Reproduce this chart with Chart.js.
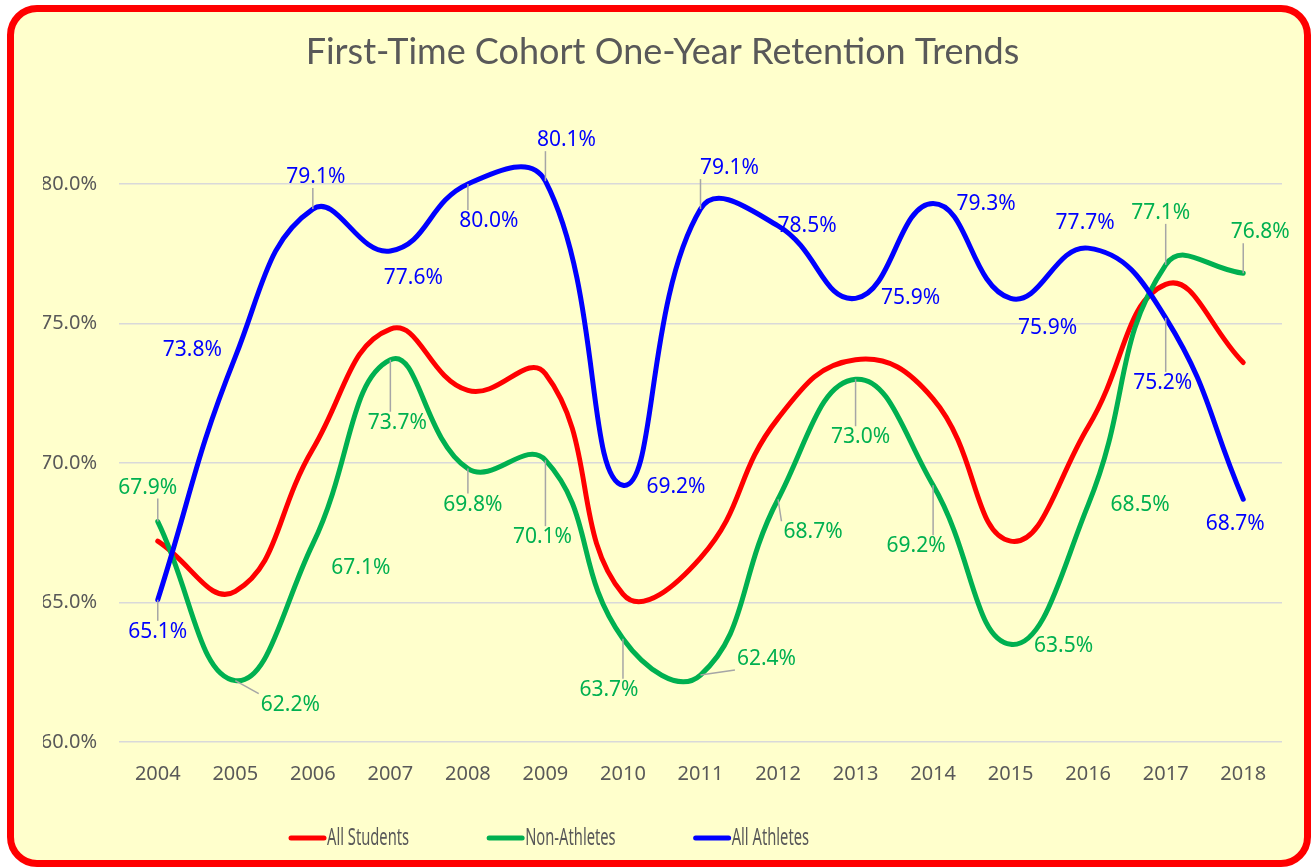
<!DOCTYPE html>
<html>
<head>
<meta charset="utf-8">
<script src="https://cdn.jsdelivr.net/npm/chart.js@4.4.0/dist/chart.umd.min.js"></script>
<style>
  html, body { margin: 0; padding: 0; background: #ffffff; overflow: hidden; }
  #frame {
    position: absolute; left: 7px; top: 5px; width: 1304px; height: 862px;
    box-sizing: border-box; border: 7px solid #ff0000; border-radius: 30px;
    background: #ffffcc;
  }
  #chart { position: absolute; left: 0; top: 0; }
</style>
</head>
<body>
<div id="frame"></div>
<canvas id="chart" width="1311" height="867"></canvas>
<script>
'use strict'

// data
const years = ['2004', '2005', '2006', '2007', '2008', '2009', '2010', '2011', '2012', '2013', '2014', '2015', '2016', '2017', '2018']
const allStudents = [67.2, 65.4, 70.5, 74.8, 72.6, 73.2, 65.3, 66.6, 71.6, 73.7, 72.3, 67.2, 71.3, 76.4, 73.6]
const nonAthletes = [67.9, 62.2, 67.1, 73.7, 69.8, 70.1, 63.7, 62.4, 68.7, 73.0, 69.2, 63.5, 68.5, 77.1, 76.8]
const allAthletes = [65.1, 73.8, 79.1, 77.6, 80.0, 80.1, 69.2, 79.1, 78.5, 75.9, 79.3, 75.9, 77.7, 75.2, 68.7]
const yTicks = [60, 65, 70, 75, 80]

const TEXT_GREY = '#595959'

// where each data label sits relative to its point: [dx, dy, leader line?]
const labelPlacement = {
    1: [[-10, -34, 1], [55, 24, 1], [48, 24, 0], [7, 63, 1], [5, 36, 1], [-3, 77, 1], [-14, 51, 1], [66, -16, 1],
        [35, 33, 1], [5, 58, 1], [-17, 61, 1], [53, 2, 0], [52, 0, 0], [-5, -52, 1], [17, -41, 1]],
    2: [[0, 32, 1], [-43, -7, 0], [3, -32, 1], [23, 27, 0], [21, 37, 1], [21, -41, 1], [53, 2, 0], [29, -41, 1],
        [29, 0, 0], [55, 0, 0], [53, 1, 0], [37, 30, 0], [-3, -25, 0], [-3, 65, 1], [-8, 25, 0]]
}

const dataLabels = {
    id: 'dataLabels',
    afterDatasetsDraw(chart) {
        const ctx = chart.ctx
        ctx.save()
        ctx.font = '21px "Noto Sans"'
        ctx.textAlign = 'center'
        ctx.textBaseline = 'middle'
        Object.keys(labelPlacement).forEach(key => {
            const idx = Number(key)
            const ds = chart.data.datasets[idx]
            const meta = chart.getDatasetMeta(idx)
            meta.data.forEach((pt, i) => {
                const [dx, dy, leader] = labelPlacement[key][i]
                const text = ds.data[i].toFixed(1) + '%'
                const cx = pt.x + dx
                const cy = pt.y + dy
                if (leader) {
                    const w = ctx.measureText(text).width / 2 + 2
                    const h = 11
                    const ex = Math.max(cx - w, Math.min(pt.x, cx + w))
                    const ey = Math.max(cy - h, Math.min(pt.y, cy + h))
                    ctx.strokeStyle = '#a6a6a6'
                    ctx.lineWidth = 1.5
                    ctx.beginPath()
                    ctx.moveTo(pt.x, pt.y)
                    ctx.lineTo(ex, ey)
                    ctx.stroke()
                }
                ctx.fillStyle = ds.borderColor
                ctx.fillText(text, cx, cy)
            })
        })
        ctx.restore()
    }
}

// legend drawn like the spreadsheet one: short round line, tall narrow text
const bottomLegend = {
    id: 'bottomLegend',
    afterDraw(chart) {
        const ctx = chart.ctx
        const squeeze = 0.64
        ctx.save()
        ctx.font = '23px "Noto Sans"'
        ctx.textBaseline = 'middle'
        let x = 291
        const y = 838
        chart.data.datasets.forEach(ds => {
            ctx.strokeStyle = ds.borderColor
            ctx.lineWidth = 5
            ctx.lineCap = 'round'
            ctx.beginPath()
            ctx.moveTo(x, y)
            ctx.lineTo(x + 33, y)
            ctx.stroke()
            const tw = ctx.measureText(ds.label).width * squeeze
            ctx.save()
            ctx.translate(x + 36, y)
            ctx.scale(squeeze, 1)
            ctx.fillStyle = TEXT_GREY
            ctx.fillText(ds.label, 0, 0)
            ctx.restore()
            x += 36 + tw + 80
        })
        ctx.restore()
    }
}

const lineStyle = {
    borderWidth: 5,
    tension: 0.45,
    fill: false,
    pointRadius: 0,
    borderCapStyle: 'round',
    borderJoinStyle: 'round'
}

const config = {
    type: 'line',
    data: {
        labels: years,
        datasets: [
            { label: 'All Students', data: allStudents, borderColor: '#ff0000', backgroundColor: '#ff0000', order: 3, ...lineStyle },
            { label: 'Non-Athletes', data: nonAthletes, borderColor: '#00b050', backgroundColor: '#00b050', order: 2, ...lineStyle },
            { label: 'All Athletes', data: allAthletes, borderColor: '#0000ff', backgroundColor: '#0000ff', order: 1, ...lineStyle }
        ]
    },
    options: {
        responsive: false,
        animation: false,
        layout: { padding: { left: 43, right: 29, top: 20, bottom: 65 } },
        scales: {
            x: {
                offset: true,
                grid: { display: false },
                border: { display: false },
                ticks: { color: TEXT_GREY, font: { family: 'Noto Sans', size: 20 }, padding: 12, maxRotation: 0 },
                afterFit: s => { s.height = 60 }
            },
            y: {
                min: 60,
                max: 82.5,
                grid: { color: '#d9d9d9', lineWidth: 1.5, drawTicks: false },
                border: { display: false },
                afterBuildTicks: s => { s.ticks = yTicks.map(v => ({ value: v })) },
                ticks: {
                    color: TEXT_GREY,
                    font: { family: 'Noto Sans', size: 20 },
                    padding: 22,
                    callback: v => v.toFixed(1) + '%'
                },
                afterFit: s => { s.width = 76 }
            }
        },
        plugins: {
            legend: { display: false },
            tooltip: { enabled: false },
            title: {
                display: true,
                text: 'First-Time Cohort One-Year Retention Trends',
                color: TEXT_GREY,
                font: { family: 'Lato', size: 36, weight: 'normal' },
                padding: { top: 11, bottom: 40 }
            }
        }
    },
    plugins: [dataLabels, bottomLegend]
}

new Chart(document.getElementById('chart').getContext('2d'), config)
</script>
</body>
</html>
